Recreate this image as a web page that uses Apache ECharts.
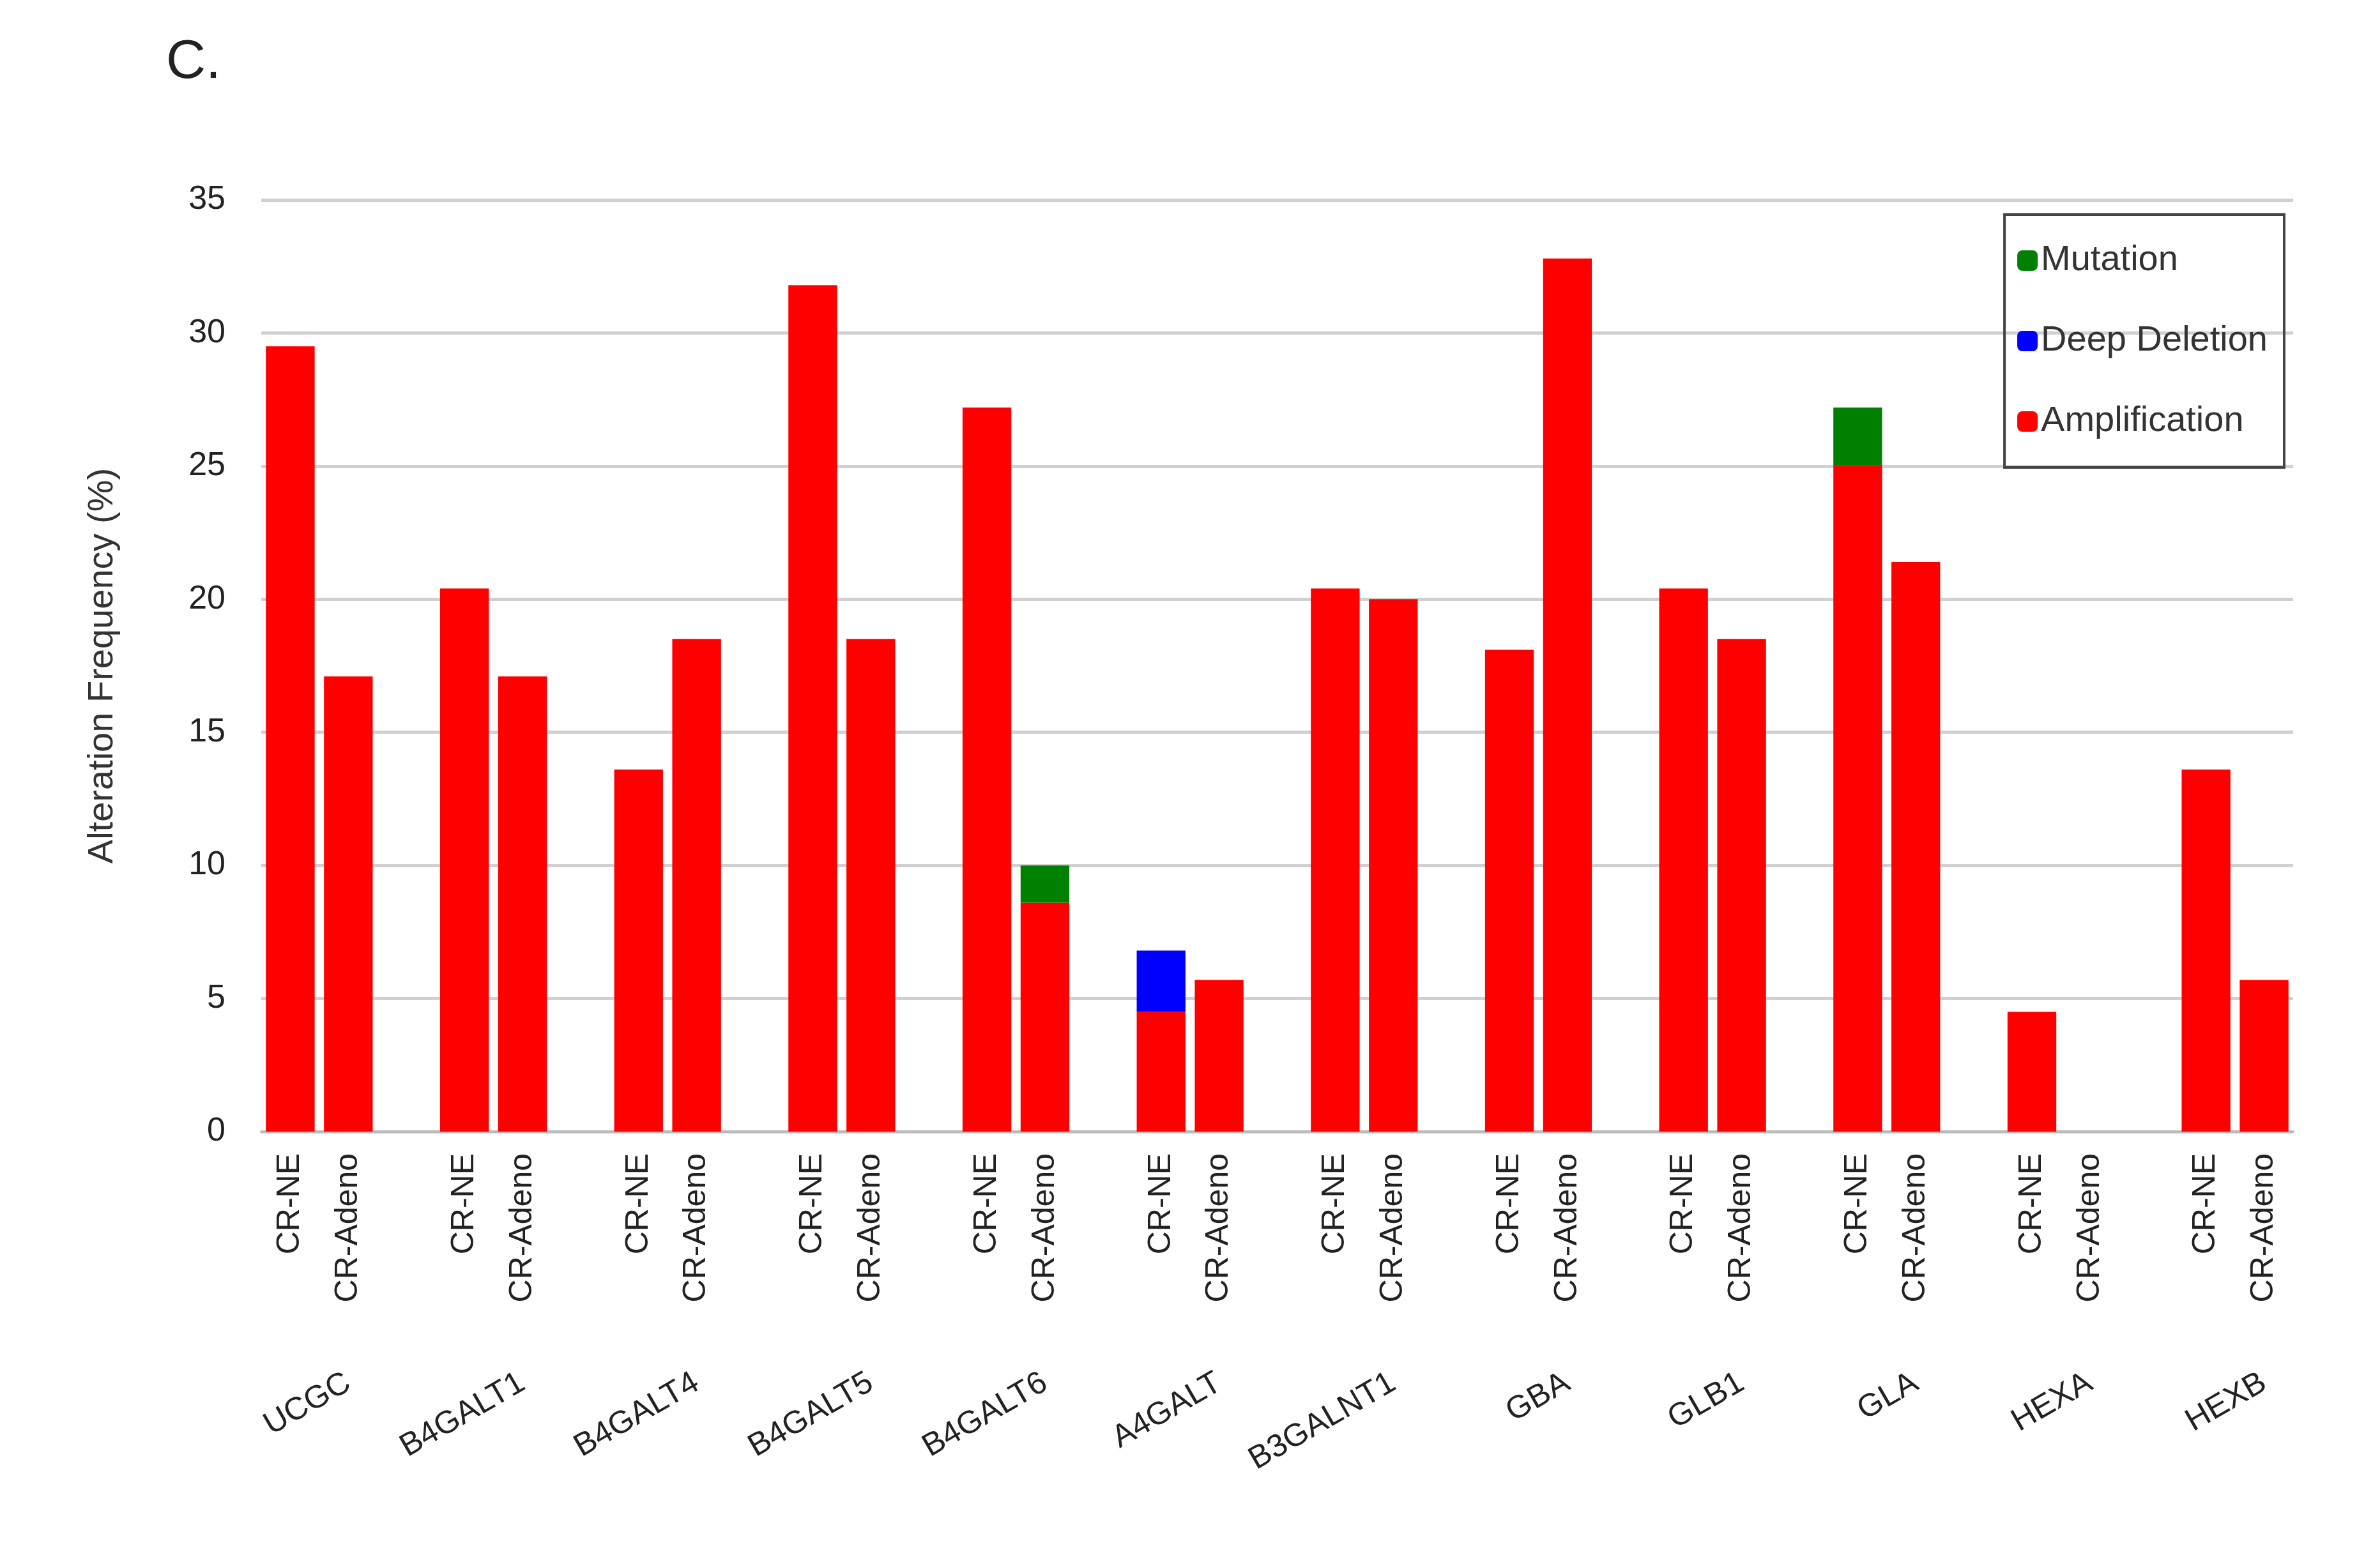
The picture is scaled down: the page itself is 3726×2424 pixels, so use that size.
<!DOCTYPE html>
<html>
<head>
<meta charset="utf-8">
<script src="https://cdn.jsdelivr.net/npm/echarts@6/dist/echarts.min.js"></script>
<style>
  html, body { margin: 0; padding: 0; background: #fff; }
  #chart { width: 3726px; height: 2424px; }
</style>
</head>
<body>
<div id="chart"></div>
<script>
// genes, each with a CR-NE and a CR-Adeno bar
const genes = ['UCGC', 'B4GALT1', 'B4GALT4', 'B4GALT5', 'B4GALT6', 'A4GALT',
  'B3GALNT1', 'GBA', 'GLB1', 'GLA', 'HEXA', 'HEXB'];
const groups = ['CR-NE', 'CR-Adeno'];

// alteration frequency (%) per gene
const neAmplification    = [29.5, 20.4, 13.6, 31.8, 27.2, 4.5, 20.4, 18.1, 20.4, 25.0, 4.5, 13.6];
const adenoAmplification = [17.1, 17.1, 18.5, 18.5, 8.6, 5.7, 20.0, 32.8, 18.5, 21.4, 0, 5.7];
const neDeepDeletion     = [0, 0, 0, 0, 0, 2.3, 0, 0, 0, 0, 0, 0];
const adenoDeepDeletion  = [0, 0, 0, 0, 0, 0, 0, 0, 0, 0, 0, 0];
const neMutation         = [0, 0, 0, 0, 0, 0, 0, 0, 0, 2.2, 0, 0];
const adenoMutation      = [0, 0, 0, 0, 1.4, 0, 0, 0, 0, 0, 0, 0];

const yTicks = { min: 0, max: 35, interval: 5 };

// flatten into slots: NE, Adeno, (blank gap between genes)
const cats = [], geneLabels = [];
function flatten(ne, ad) {
  const out = [];
  genes.forEach((g, i) => {
    out.push(ne[i] || null, ad[i] || null);
    if (i < genes.length - 1) out.push(null);
  });
  return out;
}
genes.forEach((g, i) => {
  cats.push(groups[0], groups[1]);
  geneLabels.push('', g);
  if (i < genes.length - 1) { cats.push(''); geneLabels.push(''); }
});

const font = 'Liberation Sans, Arial, sans-serif';
const chart = echarts.init(document.getElementById('chart'));

chart.setOption({
  backgroundColor: '#fff',
  animation: false,
  title: {
    text: 'C.', left: 255, top: 50,
    textStyle: { fontFamily: font, fontSize: 86, fontWeight: 'normal', color: '#222' }
  },
  legend: {
    data: ['Mutation', 'Deep Deletion', 'Amplification'],
    orient: 'vertical', right: 150, top: 336,
    padding: [44, 26, 44, 20], itemGap: 70, itemWidth: 32, itemHeight: 32,
    borderColor: '#444', borderWidth: 4,
    textStyle: { fontFamily: font, fontSize: 56, color: '#333' }
  },
  grid: { left: 409, right: 136, top: 313, bottom: 652 },
  xAxis: [{
    type: 'category', data: cats,
    axisLine: { lineStyle: { color: '#bbb', width: 4 } },
    axisTick: { show: false },
    axisLabel: { rotate: 90, fontFamily: font, fontSize: 50, color: '#222', margin: 34, interval: 0 }
  }, {
    type: 'category', data: geneLabels, position: 'bottom',
    axisLine: { show: false }, axisTick: { show: false },
    axisLabel: { rotate: 30, fontFamily: font, fontSize: 50, color: '#222', margin: 390, interval: 0 }
  }],
  yAxis: {
    type: 'value', min: yTicks.min, max: yTicks.max, interval: yTicks.interval,
    name: 'Alteration Frequency (%)', nameLocation: 'middle', nameGap: 220,
    nameTextStyle: { fontFamily: font, fontSize: 56, color: '#333' },
    axisLine: { show: false }, axisTick: { show: false },
    axisLabel: { fontFamily: font, fontSize: 52, color: '#222', margin: 56 },
    splitLine: { lineStyle: { color: '#d0d0d0', width: 5 } }
  },
  series: [
    { name: 'Amplification', type: 'bar', stack: 'a', barCategoryGap: '16%',
      itemStyle: { color: '#ff0000' }, data: flatten(neAmplification, adenoAmplification) },
    { name: 'Deep Deletion', type: 'bar', stack: 'a',
      itemStyle: { color: '#0000ff' }, data: flatten(neDeepDeletion, adenoDeepDeletion) },
    { name: 'Mutation', type: 'bar', stack: 'a',
      itemStyle: { color: '#008000' }, data: flatten(neMutation, adenoMutation) }
  ]
});
</script>
</body>
</html>
